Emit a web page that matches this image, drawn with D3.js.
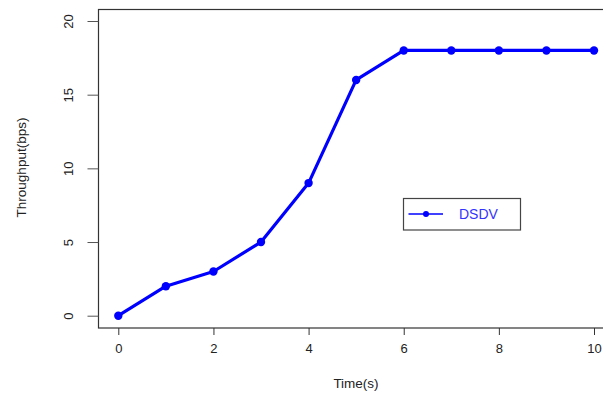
<!DOCTYPE html>
<html>
<head>
<meta charset="utf-8">
<script src="https://cdn.jsdelivr.net/npm/d3@7"></script>
<style>
body { margin: 0; background: #fff; }
svg text { font-family: "Liberation Sans", Arial, sans-serif; fill: #222; }
</style>
</head>
<body>
<div id="chart"></div>
<script>
const times = [0, 1, 2, 3, 4, 5, 6, 7, 8, 9, 10]
const throughput = [0, 2, 3, 5, 9, 16, 18, 18, 18, 18, 18]
const xTicks = [0, 2, 4, 6, 8, 10]
const yTicks = [0, 5, 10, 15, 20]
const seriesName = 'DSDV'

const width = 603, height = 394
const blue = '#0000ff'

const svg = d3.select('#chart').append('svg')
  .attr('width', width)
  .attr('height', height)

const x = d3.scaleLinear().domain([0, 10]).range([118.3, 594])
const y = d3.scaleLinear().domain([0, 20]).range([315.7, 21])

// plot box (right side runs off the picture)
svg.append('rect')
  .attr('x', 98.5).attr('y', 9.5)
  .attr('width', 520).attr('height', 318.5)
  .attr('fill', 'none')
  .attr('stroke', '#333')
  .attr('stroke-width', 1.2)

// x axis
const xAxis = svg.append('g')
  .attr('transform', 'translate(0,328)')
  .call(d3.axisBottom(x).tickValues(xTicks).tickSize(7).tickPadding(9).tickFormat(d3.format('d')))
xAxis.select('.domain').remove()
xAxis.selectAll('line').attr('stroke', '#333')
xAxis.selectAll('text').style('font-size', '13px')

// y axis
const yAxis = svg.append('g')
  .attr('transform', 'translate(98.5,0)')
  .call(d3.axisLeft(y).tickValues(yTicks).tickSize(11).tickFormat(d3.format('d')))
yAxis.select('.domain').remove()
yAxis.selectAll('line').attr('stroke', '#555')
yAxis.selectAll('text')
  .style('font-size', '13px')
  .attr('text-anchor', 'middle')
  .attr('x', 0).attr('dy', 0)
  .attr('transform', 'translate(-29,0) rotate(-90)')
  .attr('dominant-baseline', 'middle')

// axis titles
svg.append('text')
  .attr('x', 356).attr('y', 388)
  .attr('text-anchor', 'middle')
  .style('font-size', '13.5px')
  .text('Time(s)')

svg.append('text')
  .attr('transform', 'translate(25.5,167.5) rotate(-90)')
  .attr('text-anchor', 'middle')
  .style('font-size', '13.5px')
  .text('Throughput(bps)')

// series
const line = d3.line()
  .x((d, i) => x(times[i]))
  .y(d => y(d))

svg.append('path')
  .datum(throughput)
  .attr('d', line)
  .attr('fill', 'none')
  .attr('stroke', blue)
  .attr('stroke-width', 3.2)
  .attr('stroke-linejoin', 'round')

svg.selectAll('circle.pt')
  .data(throughput)
  .enter()
  .append('circle')
  .attr('class', 'pt')
  .attr('cx', (d, i) => x(times[i]))
  .attr('cy', d => y(d))
  .attr('r', 4.2)
  .attr('fill', blue)

// legend
const lg = svg.append('g').attr('transform', 'translate(403.5,198.5)')
lg.append('rect')
  .attr('width', 117).attr('height', 31.5)
  .attr('fill', '#fff')
  .attr('stroke', '#444')
  .attr('stroke-width', 1.2)
lg.append('line')
  .attr('x1', 5).attr('x2', 39.5)
  .attr('y1', 15.5).attr('y2', 15.5)
  .attr('stroke', blue)
  .attr('stroke-width', 1.5)
lg.append('circle')
  .attr('cx', 22.5).attr('cy', 15.5).attr('r', 3)
  .attr('fill', blue)
lg.append('text')
  .attr('x', 55.5).attr('y', 20.5)
  .style('font-size', '14px')
  .style('fill', '#3333ff')
  .text(seriesName)
</script>
</body>
</html>
